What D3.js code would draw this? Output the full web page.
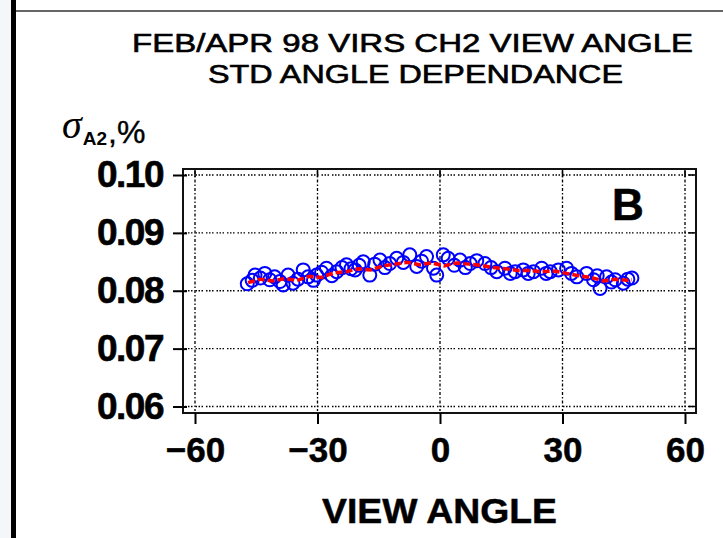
<!DOCTYPE html>
<html><head><meta charset="utf-8">
<script src="https://cdn.jsdelivr.net/npm/d3@7/dist/d3.min.js"></script>
<style>body{margin:0;background:#fff}svg{display:block}</style>
</head><body><svg id="c" width="723" height="538"></svg>
<script>
const titleLines = ["FEB/APR 98 VIRS CH2 VIEW ANGLE", "STD ANGLE DEPENDANCE"];
const xTitle = "VIEW ANGLE";
const panelLabel = "B";
const xTicks = [-60, -30, 0, 30, 60];
const yTicks = [0.06, 0.07, 0.08, 0.09, 0.10];
const angles = [-47.2,-46.0,-45.3,-44.0,-42.9,-41.7,-40.5,-39.2,-38.4,-37.2,-36.0,-34.8,-33.5,-32.3,-31.0,-30.2,-29.0,-27.8,-26.5,-25.3,-24.0,-22.9,-21.8,-20.8,-19.8,-18.8,-17.2,-16.0,-14.7,-13.5,-12.3,-10.6,-9.0,-7.4,-5.7,-4.5,-3.3,-1.6,-0.8,0.8,2.0,3.5,4.9,6.2,7.4,9.0,11.0,12.5,13.9,15.9,17.2,18.4,20.4,21.6,22.9,24.9,26.0,27.0,29.0,31.0,32.2,33.5,35.9,37.6,38.5,39.2,40.8,42.0,42.9,44.9,46.0,47.0];
const stdValues = [0.0812,0.0818,0.0827,0.0822,0.0830,0.0819,0.0824,0.0816,0.0810,0.0827,0.0813,0.0820,0.0836,0.0824,0.0818,0.0827,0.0832,0.0839,0.0826,0.0833,0.0840,0.0845,0.0838,0.0836,0.0844,0.0850,0.0827,0.0846,0.0853,0.0840,0.0847,0.0856,0.0849,0.0862,0.0842,0.0851,0.0859,0.0839,0.0827,0.0862,0.0856,0.0844,0.0853,0.0840,0.0847,0.0852,0.0847,0.0840,0.0833,0.0839,0.0830,0.0833,0.0836,0.0830,0.0833,0.0839,0.0830,0.0833,0.0836,0.0839,0.0830,0.0824,0.0830,0.0819,0.0826,0.0804,0.0824,0.0815,0.0819,0.0813,0.0820,0.0822];
const fitAngles = [-47,-44,-41,-38,-35,-32,-29,-26,-23,-20,-17,-14,-11,-8,-5,-2,1,4,7,10,13,16,19,22,25,28,31,34,37,40,43,46,47];
const fitValues = [0.0814,0.0820,0.0817,0.0821,0.0818,0.0825,0.0823,0.0831,0.0833,0.0838,0.0836,0.0843,0.0846,0.0849,0.0845,0.0848,0.0843,0.0848,0.0846,0.0844,0.0840,0.0838,0.0835,0.0835,0.0833,0.0834,0.0830,0.0826,0.0823,0.0817,0.0820,0.0818,0.0819];

const svg = d3.select("#c");
svg.append("rect").attr("x",0).attr("y",0).attr("width",11).attr("height",538).attr("fill","#f4f6f9");
svg.append("line").attr("x1",14).attr("x2",723).attr("y1",11).attr("y2",11).attr("stroke","#333").attr("stroke-width",1.5);
svg.append("rect").attr("x",11).attr("y",0).attr("width",5).attr("height",538).attr("fill","#000");

const x = d3.scaleLinear().domain([-60,60]).range([195,685]);
const y = d3.scaleLinear().domain([0.06,0.10]).range([406.5,175]);
const fL=183,fR=696,fT=169,fB=413;

const g = svg.append("g");
g.selectAll(".hg").data(yTicks).join("line")
  .attr("x1",fL+2).attr("x2",fR-2).attr("y1",d=>y(d)).attr("y2",d=>y(d))
  .attr("stroke","#000").attr("stroke-width",1.3).attr("stroke-dasharray","1.5,1.5,1.5,1.5,1.5,3");
g.selectAll(".vg").data(xTicks).join("line")
  .attr("y1",fT+2).attr("y2",fB-2).attr("x1",d=>x(d)).attr("x2",d=>x(d))
  .attr("stroke","#000").attr("stroke-width",1.3).attr("stroke-dasharray","3,2,1.5,2");
g.selectAll(".tt").data(xTicks).join("line")
  .attr("x1",d=>x(d)).attr("x2",d=>x(d)).attr("y1",fT).attr("y2",fT+8).attr("stroke","#000").attr("stroke-width",1.5);
g.selectAll(".rt").data(yTicks).join("line")
  .attr("y1",d=>y(d)).attr("y2",d=>y(d)).attr("x1",fR-8).attr("x2",fR).attr("stroke","#000").attr("stroke-width",1.5);

svg.append("rect").attr("x",fL).attr("y",fT).attr("width",fR-fL).attr("height",fB-fT)
  .attr("fill","none").attr("stroke","#111").attr("stroke-width",2);

const ff = "Liberation Sans, Arial, sans-serif";
const ya = svg.append("g").attr("transform",`translate(${fL},0)`)
  .call(d3.axisLeft(y).tickValues(yTicks).tickFormat(d3.format(".2f")).tickSize(10).tickPadding(10));
ya.select(".domain").remove();
ya.selectAll(".tick line").attr("stroke","#000").attr("stroke-width",2).attr("x2",-10).attr("x1",4);
ya.selectAll("text").attr("font-family",ff).attr("font-weight","bold").attr("font-size",37).attr("fill","#000")
  .attr("stroke","#000").attr("stroke-width",0.6).attr("letter-spacing",-1.5);

const xa = svg.append("g").attr("transform",`translate(0,${fB})`)
  .call(d3.axisBottom(x).tickValues(xTicks).tickFormat(d3.format("d")).tickSize(11).tickPadding(13));
xa.select(".domain").remove();
xa.selectAll(".tick line").attr("stroke","#000").attr("stroke-width",2);
xa.selectAll("text").attr("font-family",ff).attr("font-weight","bold").attr("font-size",35).attr("fill","#000")
  .attr("stroke","#000").attr("stroke-width",0.5);

const pts = angles.map((a,i)=>({a, v:stdValues[i]}));
svg.append("g").selectAll("circle").data(pts).join("circle")
  .attr("cx",d=>x(d.a)).attr("cy",d=>y(d.v)).attr("r",6.5)
  .attr("fill","none").attr("stroke","#0000ff").attr("stroke-width",2);
const fit = fitAngles.map((a,i)=>({a, v:fitValues[i]}));
svg.append("path").datum(fit)
  .attr("d", d3.line().x(d=>x(d.a)).y(d=>y(d.v)))
  .attr("fill","none").attr("stroke","#ff0000").attr("stroke-width",3.5).attr("stroke-dasharray","7,3");

svg.append("text").attr("x",132).attr("y",52).attr("font-family",ff).attr("font-size",25)
  .attr("stroke","#000").attr("stroke-width",0.6)
  .attr("textLength",561).attr("lengthAdjust","spacingAndGlyphs").text(titleLines[0]);
svg.append("text").attr("x",208).attr("y",83).attr("font-family",ff).attr("font-size",25)
  .attr("stroke","#000").attr("stroke-width",0.6)
  .attr("textLength",415).attr("lengthAdjust","spacingAndGlyphs").text(titleLines[1]);
svg.append("text").attr("x",439.5).attr("y",523).attr("text-anchor","middle").attr("font-family",ff)
  .attr("font-weight","bold").attr("font-size",35).attr("stroke","#000").attr("stroke-width",0.5)
  .attr("textLength",235).attr("lengthAdjust","spacingAndGlyphs").text(xTitle);
svg.append("text").attr("x",612).attr("y",220).attr("font-family",ff).attr("font-weight","bold").attr("font-size",44)
  .attr("stroke","#000").attr("stroke-width",0.6).text(panelLabel);

const yl = svg.append("text").attr("x",62).attr("y",138);
yl.append("tspan").attr("font-family","Liberation Serif, Times New Roman, serif").attr("font-style","italic").attr("font-size",40).text("σ");
yl.append("tspan").attr("font-family",ff).attr("font-weight","bold").attr("font-size",19).attr("dy",7).attr("dx",1).text("A2");
yl.append("tspan").attr("font-family",ff).attr("font-size",32).attr("stroke","#000").attr("stroke-width",0.4).attr("dy",-2).attr("dx",1).text(",%");
</script></body></html>
